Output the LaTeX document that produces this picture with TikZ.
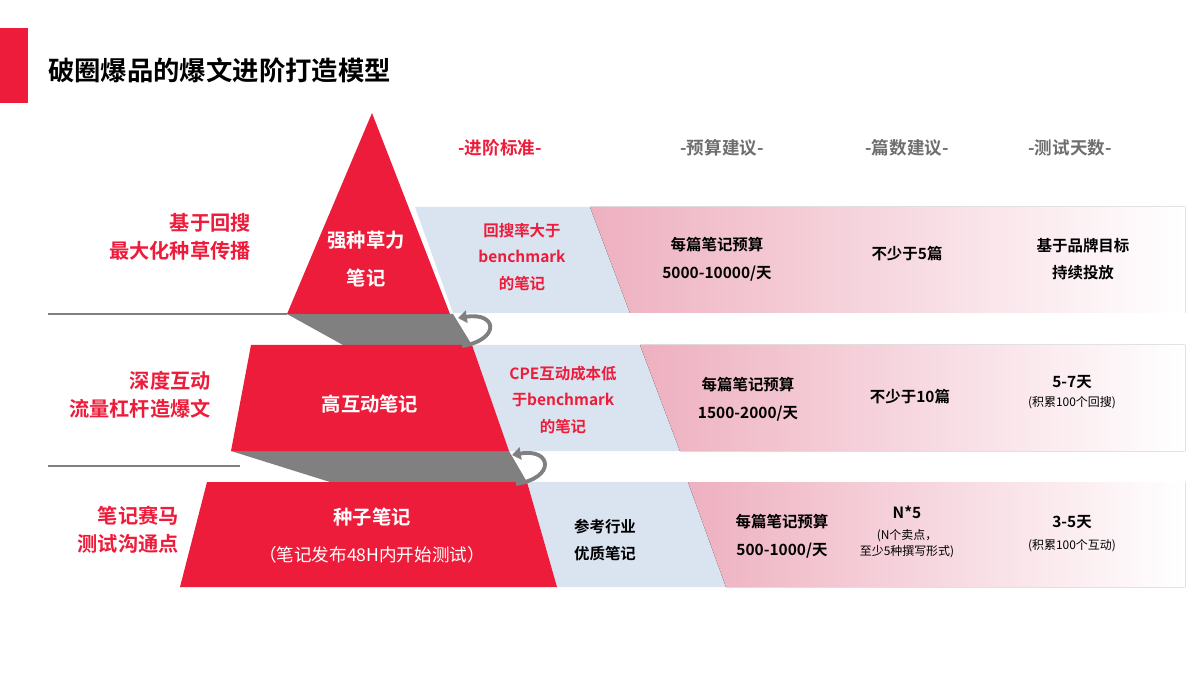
\documentclass[tikz,border=0pt]{standalone}
\usepackage{fontspec}
\setmainfont{Noto Sans CJK SC}
\newfontfamily\cjkb{Noto Sans CJK SC Bold}
\usetikzlibrary{arrows.meta}
\definecolor{rd}{RGB}{237,28,58}
\definecolor{bl}{RGB}{218,227,240}
\definecolor{pk}{RGB}{238,176,192}
\definecolor{gy}{RGB}{128,128,128}
\definecolor{hd}{RGB}{110,110,110}
\tikzset{
  px/.style={x=0.02cm,y=-0.02cm},
  lbl/.style={text=rd,font=\cjkb\fontsize{11.5}{16}\selectfont,align=right,anchor=east},
  pyr/.style={text=white,font=\cjkb\fontsize{11}{20}\selectfont,align=center},
  cell/.style={font=\cjkb\fontsize{8.8}{15}\selectfont,align=center,text=black},
  rcell/.style={cell,text=rd},
  small/.style={font=\fontsize{6.8}{9}\selectfont,align=center},
  hdr/.style={font=\cjkb\fontsize{10}{12}\selectfont,text=hd},
  arc/.style={gy,line width=2.2pt,-{Triangle[length=5pt,width=7pt]}}
}
\begin{document}
\begin{tikzpicture}[px]
\useasboundingbox (0,0) rectangle (1200,675);
\fill[rd] (0,28) rectangle (28,103);
\node[anchor=west,font=\cjkb\fontsize{15}{18}\selectfont] (title) at (42,70) {破圈爆品的爆文进阶打造模型};
% bands
\fill[bl] (415,207) -- (590,207) -- (630,313) -- (453,313) -- cycle;
\fill[left color=pk,right color=white] (590,207) -- (1185,207) -- (1185,313) -- (630,313) -- cycle;
\fill[bl] (472,345) -- (640,345) -- (680,451) -- (509,451) -- cycle;
\fill[left color=pk,right color=white] (640,345) -- (1185,345) -- (1185,451) -- (680,451) -- cycle;
\fill[bl] (527,482) -- (688,482) -- (726,587) -- (557,587) -- cycle;
\fill[left color=pk,right color=white] (688,482) -- (1185,482) -- (1185,587) -- (726,587) -- cycle;
% shadows
\draw[gy,line width=0.6pt] (48,314) -- (287,314);
\fill[gy] (287,314) -- (453,314) -- (472,345) -- (343,345) -- cycle;
\draw[gy,line width=0.6pt] (48,466) -- (240,466);
\fill[gy] (231,451) -- (509,451) -- (527,482) -- (330,482) -- cycle;
% pyramid
\fill[rd] (372,113) -- (450,314) -- (287,314) -- cycle;
\fill[rd] (251,345) -- (472,345) -- (509,451) -- (231,451) -- cycle;
\fill[rd] (207,482) -- (527,482) -- (557,587) -- (180,587) -- cycle;
% arcs
\coordinate (a1s) at (462,346);
\coordinate (a1e) at (458,318);
\draw[arc] (a1s) .. controls (500,340) and (498,312) .. (a1e);
\coordinate (a2s) at (516,484);
\coordinate (a2e) at (512,455);
\draw[arc] (a2s) .. controls (556,478) and (552,448) .. (a2e);
% headers
\node[hdr,text=rd] (h1) at (500,148) {-进阶标准-};
\node[hdr] (h2) at (722,148) {-预算建议-};
\node[hdr] (h3) at (907,148) {-篇数建议-};
\node[hdr] (h4) at (1070,148) {-测试天数-};
% left labels
\node[lbl] (l1) at (257,237) {基于回搜\\最大化种草传播};
\node[lbl] (l2) at (217,395) {深度互动\\流量杠杆造爆文};
\node[lbl] (l3) at (185,530) {笔记赛马\\测试沟通点};
% pyramid texts
\node[pyr,font=\cjkb\fontsize{11}{22}\selectfont] (p1) at (366,259) {强种草力\\笔记};
\node[pyr] (p2) at (370,404) {高互动笔记};
\node[pyr] (p3) at (372,517) {种子笔记};
\node[text=white,font=\fontsize{10}{12}\selectfont] (p3b) at (372,555) {（笔记发布48H内开始测试）};
% column 1
\node[rcell] (c11) at (522,257) {回搜率大于\\benchmark\\的笔记};
\node[rcell] (c12) at (563,400) {CPE互动成本低\\于benchmark\\的笔记};
\node[cell] (c13) at (605,540) {参考行业\\优质笔记};
% column 2
\node[cell,font=\cjkb\fontsize{8.8}{16}\selectfont] (c21) at (717,259) {每篇笔记预算\\5000-10000/天};
\node[cell,font=\cjkb\fontsize{8.8}{16}\selectfont] (c22) at (748,399) {每篇笔记预算\\1500-2000/天};
\node[cell,font=\cjkb\fontsize{8.8}{16}\selectfont] (c23) at (782,536) {每篇笔记预算\\500-1000/天};
% column 3
\node[cell] (c31) at (907,254) {不少于5篇};
\node[cell] (c32) at (910,397) {不少于10篇};
\node[cell] (c33) at (907,512) {N*5};
\node[small] (c33b) at (907,544) {(N个卖点，\\至少5种撰写形式)};
% column 4
\node[cell] (c41) at (1083,259) {基于品牌目标\\持续投放};
\node[cell] (c42) at (1072,382) {5-7天};
\node[small] (c42b) at (1072,403) {(积累100个回搜)};
\node[cell] (c43) at (1072,522) {3-5天};
\node[small] (c43b) at (1072,546) {(积累100个互动)};
\end{tikzpicture}
\end{document}
